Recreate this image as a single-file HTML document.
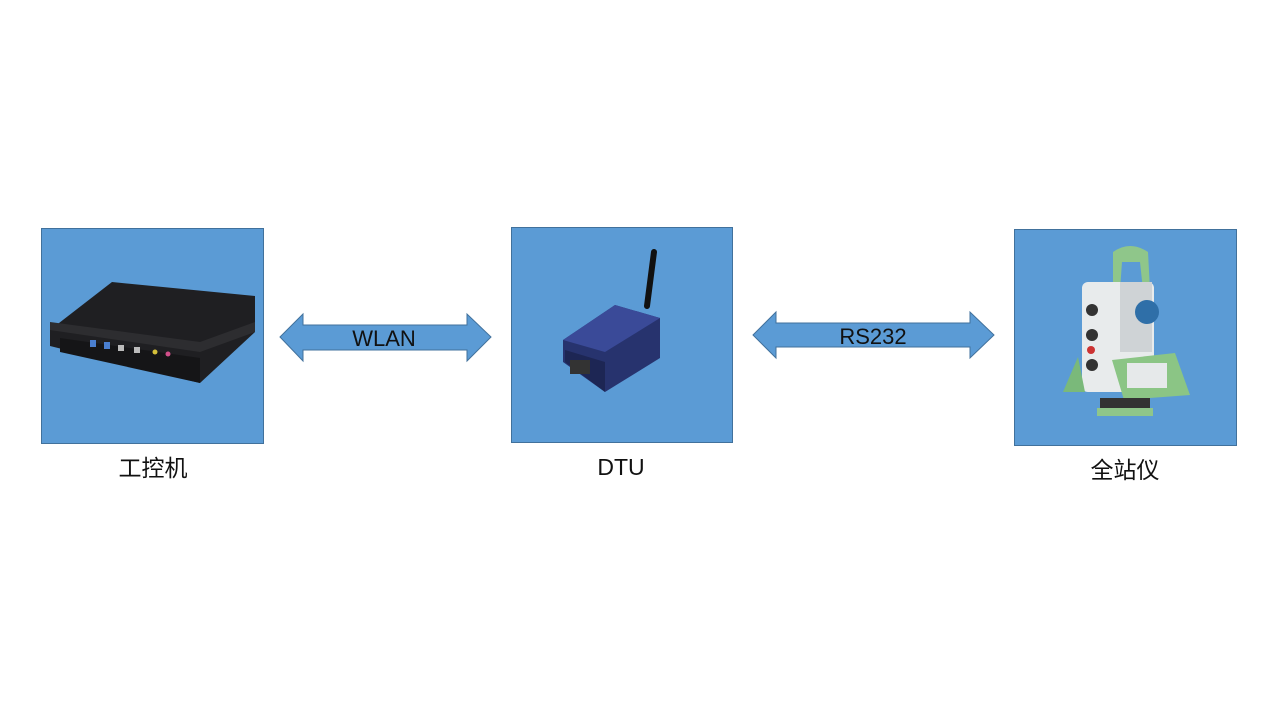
<!DOCTYPE html>
<html><head><meta charset="utf-8"><style>
body{margin:0;background:#fff;width:1280px;height:720px;overflow:hidden}
text{font-family:"Liberation Sans","Noto Sans CJK SC",sans-serif}
</style></head><body>
<svg width="1280" height="720" xmlns="http://www.w3.org/2000/svg">
<rect x="41.5" y="228.5" width="222" height="215" fill="#5b9bd5" stroke="#41719c"/>
<rect x="511.5" y="227.5" width="221" height="215" fill="#5b9bd5" stroke="#41719c"/>
<rect x="1014.5" y="229.5" width="222" height="216" fill="#5b9bd5" stroke="#41719c"/>
<!-- PC -->
<polygon points="50,330 112,282 255,296 255,332 200,383 50,346" fill="#1f1f22"/>
<polygon points="50,330 200,352 255,332 255,322 200,342 50,322" fill="#2d2d30"/>
<polygon points="60,338 200,358 200,383 60,352" fill="#151517"/>
<rect x="90" y="340" width="6" height="7" fill="#4a7fd0"/><rect x="104" y="342" width="6" height="7" fill="#4a7fd0"/>
<rect x="118" y="345" width="6" height="6" fill="#bbb"/><rect x="134" y="347" width="6" height="6" fill="#bbb"/>
<circle cx="155" cy="352" r="2.5" fill="#d4c03a"/><circle cx="168" cy="354" r="2.5" fill="#d24f8a"/>
<!-- DTU -->
<line x1="654" y1="252" x2="647" y2="306" stroke="#111" stroke-width="6" stroke-linecap="round"/>
<polygon points="563,340 615,305 660,318 660,358 605,392 563,362" fill="#27336e"/>
<polygon points="563,340 605,352 660,318 615,305" fill="#3a4a98"/>
<polygon points="565,350 605,362 605,392 565,362" fill="#1d2654"/>
<rect x="570" y="360" width="20" height="14" fill="#333"/>
<!-- Total station -->
<path d="M1113,290 L1113,252 Q1130,240 1148,252 L1150,290 L1143,290 L1140,262 L1122,262 L1120,290Z" fill="#8fc68a"/>
<rect x="1082" y="282" width="72" height="110" rx="6" fill="#e8ebec"/>
<rect x="1120" y="282" width="32" height="70" fill="#cfd3d6"/>
<circle cx="1147" cy="312" r="12" fill="#2f6fa8"/>
<circle cx="1092" cy="310" r="6" fill="#333"/><circle cx="1092" cy="335" r="6" fill="#333"/><circle cx="1092" cy="365" r="6" fill="#333"/>
<circle cx="1091" cy="350" r="4" fill="#c33"/>
<polygon points="1063,392 1078,357 1085,392" fill="#7ab97a"/>
<polygon points="1112,360 1175,353 1190,395 1124,400" fill="#8bc585"/>
<rect x="1127" y="363" width="40" height="25" fill="#e6e9ea"/>
<rect x="1100" y="398" width="50" height="14" fill="#333"/>
<rect x="1097" y="408" width="56" height="8" fill="#8fc68a"/>
<!-- arrows -->
<polygon points="280,337 303,314 303,325 467,325 467,314 491,337 467,361 467,350 303,350 303,361" fill="#5b9bd5" stroke="#41719c"/>
<text x="384" y="346" font-size="22" text-anchor="middle" fill="#111">WLAN</text>
<polygon points="753,335 776,312 776,323 970,323 970,312 994,335 970,358 970,347 776,347 776,358" fill="#5b9bd5" stroke="#41719c"/>
<text x="873" y="344" font-size="22" text-anchor="middle" fill="#111">RS232</text>
<text x="153" y="476" font-size="23" text-anchor="middle" fill="#111">工控机</text>
<text x="621" y="475" font-size="23" text-anchor="middle" fill="#111">DTU</text>
<text x="1125" y="478" font-size="23" text-anchor="middle" fill="#111">全站仪</text>
</svg>
</body></html>
